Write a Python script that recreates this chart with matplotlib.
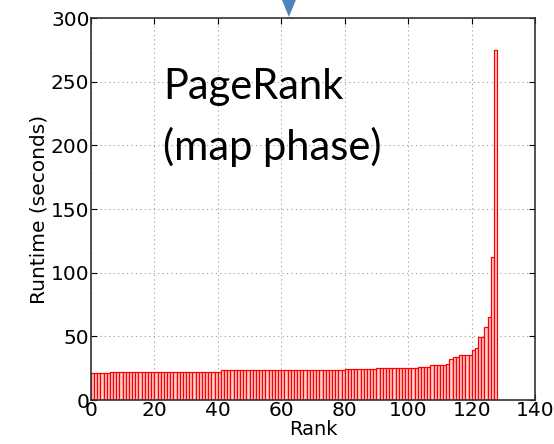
import numpy as np
import matplotlib
matplotlib.use('Agg')
import matplotlib.pyplot as plt
from matplotlib.patches import Polygon

# runtime per task, sorted
runtime = [
    21, 21, 21, 21, 21, 21,
    22.3, 22.3, 22.3, 22.3, 22.3, 22.3, 22.3, 22.3, 22.3, 22.3,
    22.3, 22.3, 22.3, 22.3, 22.3, 22.3, 22.3, 22.3, 22.3, 22.3,
    22.3, 22.3, 22.3, 22.3, 22.3, 22.3, 22.3, 22.3, 22.3, 22.3,
    22.3, 22.3, 22.3, 22.3, 22.3,
    23.3, 23.3, 23.3, 23.3, 23.3, 23.3, 23.3, 23.3, 23.3, 23.3,
    23.3, 23.3, 23.3, 23.3, 23.3, 23.3, 23.3, 23.3, 23.3, 23.3,
    23.3, 23.3, 23.3, 23.3, 23.3, 23.3, 23.3, 23.3, 23.3, 23.3,
    23.3, 23.3, 23.3, 23.3, 23.3, 23.3, 23.3, 23.3, 23.3,
    24.2, 24.2, 24.2, 24.2, 24.2, 24.2, 24.2, 24.2, 24.2, 24.2,
    25.2, 25.2, 25.2, 25.2, 25.2, 25.2, 25.2, 25.2, 25.2, 25.2,
    25.2, 25.2, 25.2,
    26.3, 26.3, 26.3, 26.3,
    27.5, 27.5, 27.5, 27.5, 27.5,
    28.5, 32, 33.5, 33.5,
    35.5, 35.5, 35.5, 35.5,
    39, 41, 49.5, 49.5, 57.5, 65, 112, 275,
]
rank = np.arange(len(runtime))

fig = plt.figure(figsize=(5.54, 4.44), dpi=100)
ax = fig.add_axes([0.164, 0.099, 0.802, 0.860])

ax.bar(rank, runtime, width=1.0, align='edge', facecolor='#ffd0d0',
       edgecolor='red', linewidth=0.9, zorder=2)

ax.set_xlim(0, 140)
ax.set_ylim(0, 300)
ax.set_xticks(np.arange(0, 141, 20))
ax.set_yticks(np.arange(0, 301, 50))
ax.grid(True, color='#999999', linestyle=(0, (1, 3)), linewidth=0.8, zorder=0)
ax.set_axisbelow(True)
ax.tick_params(direction='in', length=4, labelsize=14.5, top=True, right=True)
ax.tick_params(axis='x', pad=1)
ax.tick_params(axis='y', pad=1)
for s in ax.spines.values():
    s.set_color('#333333')
    s.set_linewidth(1.2)

ax.set_xlabel('Rank', fontsize=14, labelpad=0)
ax.set_ylabel('Runtime (seconds)', fontsize=14.5, labelpad=2)

ax.text(0.162, 0.788, 'PageRank', transform=ax.transAxes,
        fontsize=30, family='Lato', va='baseline', ha='left')
ax.text(0.162, 0.628, '(map phase)', transform=ax.transAxes,
        fontsize=30, family='Lato', va='baseline', ha='left')

# tip of the blue arrow at the top of the slide
tip = Polygon([[0.509, 1.0], [0.534, 1.0], [0.5215, 0.962]], closed=True,
              transform=fig.transFigure, facecolor='#4f81bd', edgecolor='none')
fig.patches.append(tip)

fig.savefig('out.png', dpi=100)
